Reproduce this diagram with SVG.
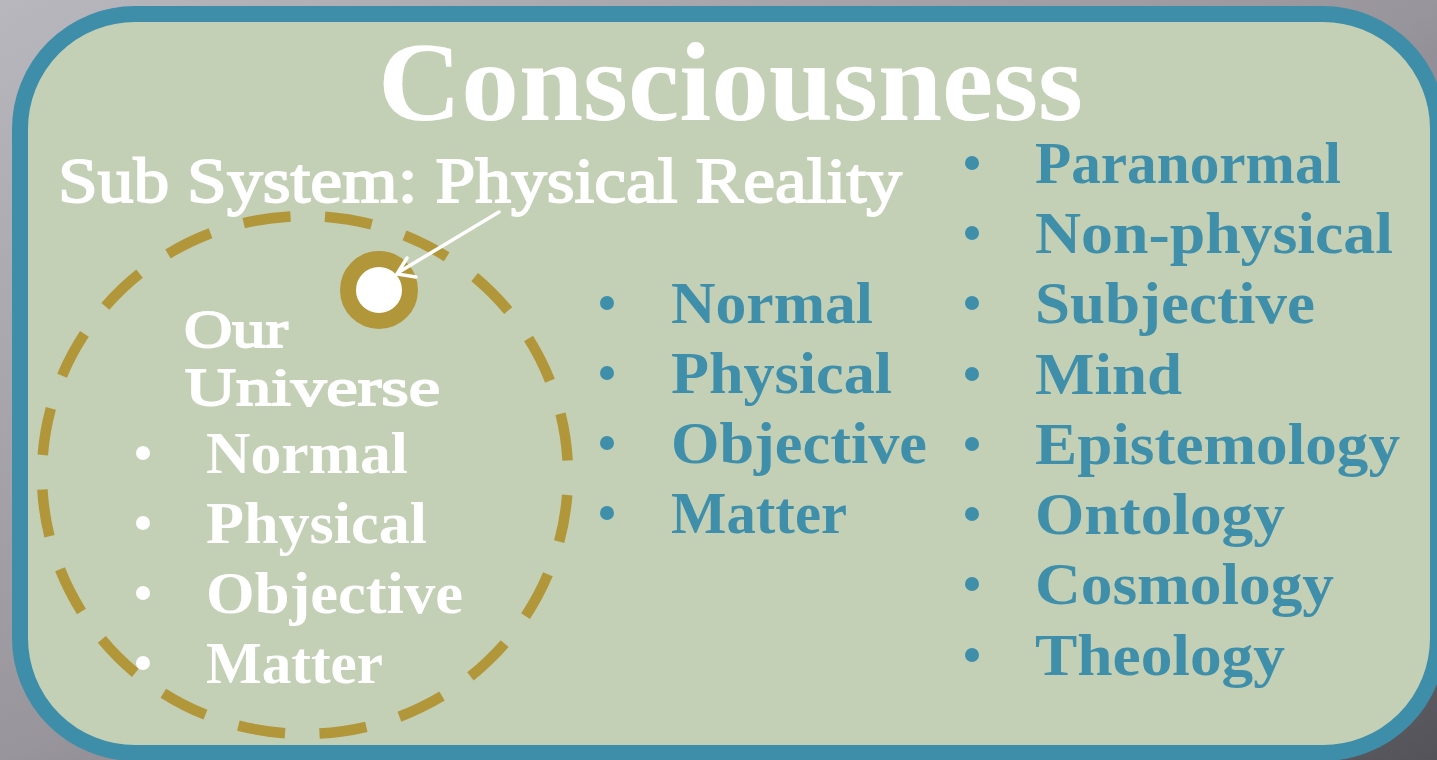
<svg xmlns="http://www.w3.org/2000/svg" width="1437" height="760" viewBox="0 0 1437 760">
<defs>
<linearGradient id="bg" x1="0" y1="0" x2="1" y2="1">
<stop offset="0" stop-color="#b9b7be"/>
<stop offset="0.5" stop-color="#98959c"/>
<stop offset="1" stop-color="#545359"/>
</linearGradient>
<style>
.w{fill:#ffffff;font-family:"Liberation Serif","Times New Roman",serif;}
.t{fill:#3f8fab;font-family:"Liberation Serif","Times New Roman",serif;font-weight:bold;font-size:60px;}
.wb{font-weight:bold;font-size:60px;}
.reg{font-weight:normal;stroke:#ffffff;stroke-width:1.8;}
.bw{fill:#ffffff;}
.bt{fill:#3f8fab;}
</style>
</defs>
<rect x="0" y="0" width="1437" height="760" fill="url(#bg)"/>
<g id="consciousness">
<rect x="20" y="14" width="1418" height="739" rx="115" ry="115" fill="#c3d0b6" stroke="#3e8eaa" stroke-width="16"/>
<text class="w" x="378" y="120" font-size="112" font-weight="bold" textLength="705" lengthAdjust="spacingAndGlyphs">Consciousness</text>
</g>
<g id="subsystem">
<text class="w reg" x="58" y="202" font-size="64" textLength="844" lengthAdjust="spacingAndGlyphs">Sub System: Physical Reality</text>
</g>
<g id="universe">
<path d="M568 475 A263 259 0 1 1 42 475 A263 259 0 1 1 568 475" fill="none" stroke="#b1973a" stroke-width="10.5" pathLength="360" stroke-dasharray="10.4 7.6" stroke-dashoffset="13.6"/>
<text class="w reg" x="184" y="347" font-size="53" textLength="104" lengthAdjust="spacingAndGlyphs">Our</text>
<text class="w reg" x="185" y="405" font-size="53" textLength="255" lengthAdjust="spacingAndGlyphs">Universe</text>
<circle class="bw" cx="143" cy="453" r="7"/>
<circle class="bw" cx="143" cy="523" r="7"/>
<circle class="bw" cx="143" cy="593" r="7"/>
<circle class="bw" cx="143" cy="663" r="7"/>
<text class="w wb" x="206" y="473" textLength="202" lengthAdjust="spacingAndGlyphs">Normal</text>
<text class="w wb" x="206" y="543" textLength="221" lengthAdjust="spacingAndGlyphs">Physical</text>
<text class="w wb" x="206" y="613" textLength="257" lengthAdjust="spacingAndGlyphs">Objective</text>
<text class="w wb" x="206" y="683" textLength="177" lengthAdjust="spacingAndGlyphs">Matter</text>
</g>
<g id="physical-reality">
<circle cx="379" cy="290" r="31" fill="#ffffff" stroke="#b1973a" stroke-width="16"/>
</g>
<g id="middle-list">
<circle class="bt" cx="607" cy="303" r="7"/>
<circle class="bt" cx="607" cy="373" r="7"/>
<circle class="bt" cx="607" cy="443" r="7"/>
<circle class="bt" cx="607" cy="513" r="7"/>
<text class="t" x="671" y="323" textLength="202" lengthAdjust="spacingAndGlyphs">Normal</text>
<text class="t" x="671" y="393" textLength="221" lengthAdjust="spacingAndGlyphs">Physical</text>
<text class="t" x="671" y="463" textLength="256" lengthAdjust="spacingAndGlyphs">Objective</text>
<text class="t" x="671" y="533" textLength="176" lengthAdjust="spacingAndGlyphs">Matter</text>
</g>
<g id="right-list">
<circle class="bt" cx="972" cy="163" r="7"/>
<circle class="bt" cx="972" cy="233" r="7"/>
<circle class="bt" cx="972" cy="303" r="7"/>
<circle class="bt" cx="972" cy="374" r="7"/>
<circle class="bt" cx="972" cy="444" r="7"/>
<circle class="bt" cx="972" cy="514" r="7"/>
<circle class="bt" cx="972" cy="584" r="7"/>
<circle class="bt" cx="972" cy="655" r="7"/>
<text class="t" x="1035" y="183" textLength="306" lengthAdjust="spacingAndGlyphs">Paranormal</text>
<text class="t" x="1035" y="253" textLength="358" lengthAdjust="spacingAndGlyphs">Non-physical</text>
<text class="t" x="1035" y="323" textLength="280" lengthAdjust="spacingAndGlyphs">Subjective</text>
<text class="t" x="1035" y="394" textLength="147" lengthAdjust="spacingAndGlyphs">Mind</text>
<text class="t" x="1035" y="464" textLength="365" lengthAdjust="spacingAndGlyphs">Epistemology</text>
<text class="t" x="1035" y="534" textLength="250" lengthAdjust="spacingAndGlyphs">Ontology</text>
<text class="t" x="1035" y="604" textLength="299" lengthAdjust="spacingAndGlyphs">Cosmology</text>
<text class="t" x="1035" y="675" textLength="250" lengthAdjust="spacingAndGlyphs">Theology</text>
</g>
<g id="connectors">
<line x1="499" y1="212" x2="399" y2="272" stroke="#ffffff" stroke-width="3.5" stroke-linecap="round"/>
<polyline points="407,258 397,274 416,277" fill="none" stroke="#ffffff" stroke-width="3.5" stroke-linecap="round" stroke-linejoin="miter"/>
</g>
</svg>
